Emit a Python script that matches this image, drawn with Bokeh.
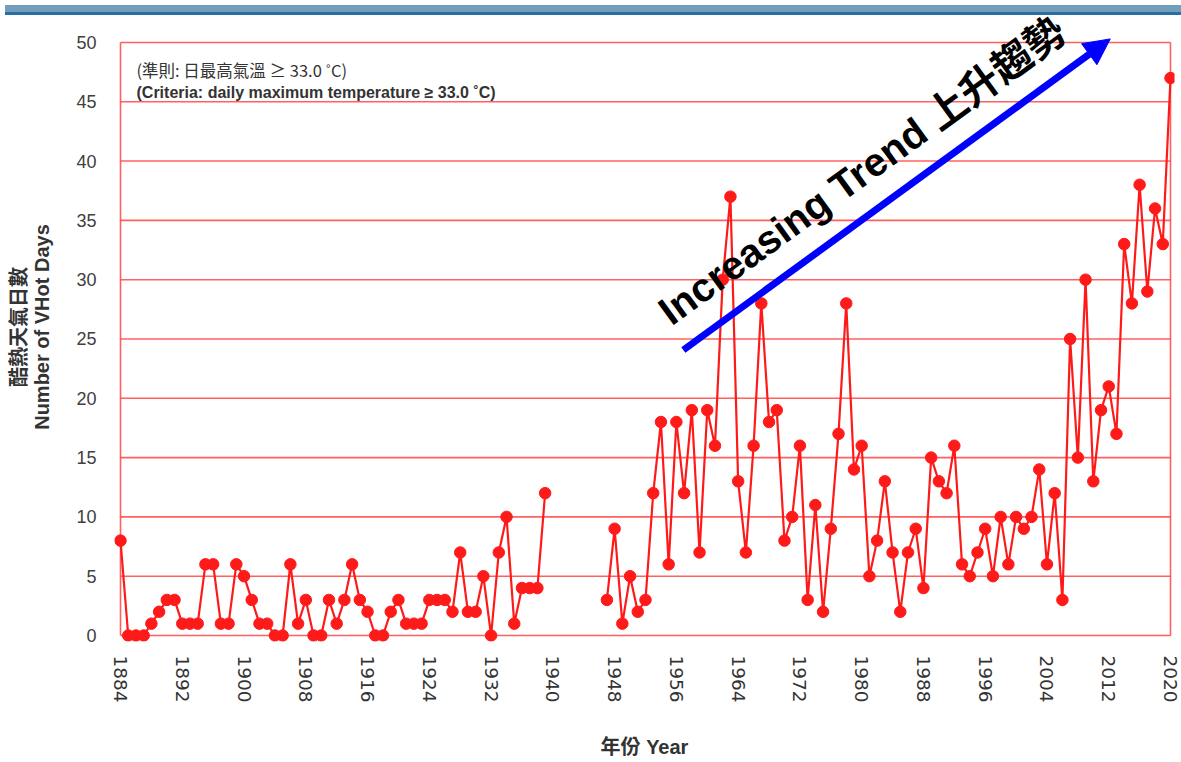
import math
from bokeh.plotting import figure
from bokeh.models import Range1d, Label, Arrow, NormalHead, FixedTicker, Div
from bokeh.layouts import column
from bokeh.embed import file_html
from bokeh.resources import INLINE

# ---- data -------------------------------------------------------------
years_pre = list(range(1884, 1940))
vhot_pre = [8, 0, 0, 0, 1, 2, 3, 3, 1, 1,
            1, 6, 6, 1, 1, 6, 5, 3, 1, 1,
            0, 0, 6, 1, 3, 0, 0, 3, 1, 3,
            6, 3, 2, 0, 0, 2, 3, 1, 1, 1,
            3, 3, 3, 2, 7, 2, 2, 5, 0, 7,
            10, 1, 4, 4, 4, 12]

years_post = list(range(1947, 2021))
vhot_post = [3, 9, 1, 5, 2, 3, 12, 18, 6, 18,
             12, 19, 7, 19, 16, 30, 37, 13, 7, 16,
             28, 18, 19, 8, 10, 16, 3, 11, 2, 9,
             17, 28, 14, 16, 5, 8, 13, 7, 2, 7,
             9, 4, 15, 13, 12, 16, 6, 5, 7, 9,
             5, 10, 6, 10, 9, 10, 14, 6, 12, 3,
             25, 15, 30, 13, 19, 21, 17, 33, 28, 38,
             29, 36, 33, 47]

x_ticks = list(range(1884, 2021, 8))
y_ticks = list(range(0, 51, 5))

first_year = years_pre[0]
last_year = years_post[-1]
y_top = y_ticks[-1]

# ---- figure -----------------------------------------------------------
px_per_year = 1050 / (last_year - first_year)
px_per_unit = 594 / y_top

p = figure(width=1181, height=760,
           x_range=Range1d(first_year - 6 / px_per_year, last_year + 4 / px_per_year),
           y_range=Range1d(-6 / px_per_unit, y_top + 30 / px_per_unit),
           output_backend="svg", toolbar_location=None,
           min_border_left=114, min_border_right=7,
           min_border_top=12, min_border_bottom=118)

p.xgrid.visible = False
p.ygrid.visible = False
p.outline_line_color = None
p.background_fill_color = "white"
p.border_fill_color = "white"

grid_color = "#ff4444"
p.segment(x0=[first_year] * len(y_ticks), x1=[last_year] * len(y_ticks),
          y0=y_ticks, y1=y_ticks, line_color=grid_color, line_width=1.6, line_alpha=0.85)
p.segment(x0=[first_year, last_year], x1=[first_year, last_year],
          y0=[0, 0], y1=[y_top, y_top], line_color=grid_color, line_width=1.6, line_alpha=0.85)

red = "#ff1a1a"
p.line(years_pre, vhot_pre, line_color=red, line_width=2.2)
p.line(years_post, vhot_post, line_color=red, line_width=2.2)
p.scatter(years_pre + years_post, vhot_pre + vhot_post, size=11.5,
          fill_color=red, line_color=red)

# ---- axes -------------------------------------------------------------
cjk_font = "Liberation Sans, Noto Sans CJK TC"

xa = p.xaxis[0]
xa.ticker = FixedTicker(ticks=x_ticks)
xa.major_label_orientation = -math.pi / 2
xa.axis_line_color = None
xa.major_tick_line_color = None
xa.minor_tick_line_color = None
xa.major_label_standoff = 8
xa.major_label_text_font = "DejaVu Sans"
xa.major_label_text_font_size = "18.5px"
xa.major_label_text_color = "#333333"
xa.axis_label = "年份 Year"
xa.axis_label_text_font = cjk_font
xa.axis_label_text_font_style = "bold"
xa.axis_label_text_font_size = "20px"
xa.axis_label_text_color = "#333333"
xa.axis_label_standoff = 30

ya = p.yaxis[0]
ya.ticker = FixedTicker(ticks=y_ticks)
ya.axis_line_color = None
ya.major_tick_line_color = None
ya.minor_tick_line_color = None
ya.major_label_standoff = 12
ya.major_label_text_font = "Liberation Sans"
ya.major_label_text_font_size = "18px"
ya.major_label_text_color = "#404040"
ya.axis_label = "酷熱天氣日數\nNumber of VHot Days"
ya.axis_label_text_font = cjk_font
ya.axis_label_text_font_style = "bold"
ya.axis_label_text_font_size = "20px"
ya.axis_label_text_color = "#333333"
ya.axis_label_text_line_height = 1.05
ya.axis_label_standoff = 20

# ---- annotations ------------------------------------------------------
p.add_layout(Label(x=first_year + 16 / px_per_year, y=(636 - 70) / px_per_unit,
                   text="(準則: 日最高氣溫 ≥ 33.0 ˚C)",
                   text_font="Noto Sans CJK TC", text_font_size="16.5px",
                   text_font_style="normal", text_color="#333333",
                   text_baseline="middle", text_align="left"))
p.add_layout(Label(x=first_year + 16 / px_per_year, y=(636 - 92) / px_per_unit,
                   text="(Criteria: daily maximum temperature ≥ 33.0 ˚C)",
                   text_font="Liberation Sans", text_font_size="16px",
                   text_font_style="bold", text_color="#333333",
                   text_baseline="middle", text_align="left"))

p.add_layout(Arrow(x_start=1956.9, y_start=24.07, x_end=2012.2, y_end=50.3,
                   line_color="#0000ff", line_width=7,
                   end=NormalHead(size=26, fill_color="#0000ff", line_color="#0000ff")))

p.add_layout(Label(x=1954.3, y=27.0, text="Increasing Trend 上升趨勢",
                   angle=36, angle_units="deg",
                   text_font=cjk_font, text_font_size="40px",
                   text_font_style="bold", text_color="black",
                   text_baseline="alphabetic", text_align="left"))

band = Div(text="", width=1181, height=10,
           styles={"position": "fixed", "top": "0px", "left": "0px",
                   "width": "1181px", "height": "10px",
                   "background": "linear-gradient(#6f9fba 0%, #6f9fba 70%, #2b6ea6 70%, #2b6ea6 100%)",
                   "z-index": "10"})

layout = column(band, p)
open("out.html", "w").write(file_html(layout, INLINE))
